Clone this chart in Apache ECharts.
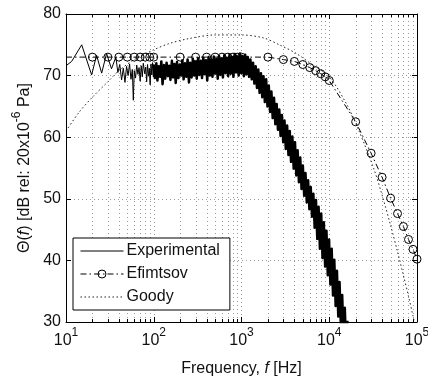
<!DOCTYPE html>
<html>
<head>
<meta charset="utf-8">
<script src="https://cdn.jsdelivr.net/npm/echarts@6/dist/echarts.min.js"></script>
<style>
html,body{margin:0;padding:0;background:#fff;}
#chart{width:428px;height:379px;}
</style>
</head>
<body>
<div id="chart"></div>
<script>
// ---- Data ----
const expFreq = [10, 11.6, 15.1, 19.6, 22.3, 25.5, 29, 33, 37, 39, 41, 43, 45, 47, 49, 51, 53, 55, 57, 58.5, 60, 62, 64, 66, 68, 70, 72, 74, 76, 79, 81, 83, 85, 87, 89, 91, 93, 95, 97, 99,
  100, 103, 107, 110, 114, 118, 122, 126, 131, 135, 140, 145, 150, 155, 161, 166, 172, 178, 184, 191, 198, 205, 212, 219, 227, 235, 243, 252, 260, 270, 279, 289, 299, 309, 320, 331, 343, 355, 367, 380, 393, 407, 421, 436, 451, 467, 483, 500, 518, 536, 554, 574, 594, 614, 636, 658, 681, 705, 730, 755, 782, 809, 837, 866, 897, 928, 960, 994, 1029, 1065, 1102, 1140, 1180, 1222, 1264, 1308, 1354, 1402, 1451, 1501, 1554, 1608, 1665, 1723, 1783, 1846, 1910, 1977, 2046, 2118, 2192, 2268, 2348, 2430, 2515, 2603, 2694, 2788, 2886, 2987, 3091, 3199, 3311, 3427, 3547, 3671, 3800, 3933, 4070, 4213, 4360, 4513, 4671, 4834, 5003, 5178, 5360, 5547, 5741, 5942, 6150, 6366, 6588, 6819, 7057, 7304, 7560, 7825, 8098, 8382, 8675, 8979, 9293, 9618, 9955, 10303, 10664, 11037, 11423, 11823, 12237, 12665, 13108, 13567, 14042, 14534, 15042, 15569, 16114];
const expLevel = [71.6, 72.3, 75.0, 70.1, 73.3, 70.4, 73.6, 71.1, 73.0, 70.5, 71.8, 69.3, 71.2, 68.9, 71.5, 70.0, 71.9, 69.4, 71.0, 66.0, 70.8, 69.6, 71.7, 70.2, 71.3, 69.1, 71.6, 69.8, 72.0, 70.3, 71.4, 69.0, 71.8, 69.9, 71.2, 68.5, 71.9, 70.1, 72.1, 69.8,
  71.8, 69.6, 72.0, 69.2, 71.5, 69.8, 72.3, 68.6, 71.7, 69.5, 72.1, 69.9, 71.6, 69.3, 72.4, 69.7, 71.9, 68.8, 72.2, 69.6, 71.8, 70.0, 72.5, 69.4, 72.0, 69.8, 72.6, 68.9, 72.1, 69.7, 72.7, 70.0, 72.3, 69.5, 72.8, 70.1, 72.4, 69.6, 72.9, 70.2, 72.5, 69.2, 73.0, 70.0, 72.6, 69.8, 73.1, 70.3, 72.7, 69.5, 73.2, 70.1, 72.8, 69.7, 73.3, 70.4, 72.9, 69.9, 73.4, 70.3, 73.0, 69.8, 73.5, 70.5, 73.1, 70.0, 73.6, 70.4, 73.2, 69.9, 73.4, 70.2, 73.0, 69.8, 72.6, 69.4, 72.1, 68.7, 71.5, 68.0, 71.0, 67.2, 70.4, 66.5, 69.9, 65.7, 69.4, 65.0, 68.4, 64.1, 67.4, 63.1, 66.4, 62.1, 65.4, 61.2, 64.5, 60.2, 63.6, 59.2, 62.7, 58.1, 61.9, 57.1, 61.0, 56.0, 60.1, 54.9, 59.2, 53.8, 57.9, 52.7, 56.7, 51.6, 55.4, 50.5, 54.2, 49.4, 53.0, 48.3, 51.9, 47.1, 50.8, 45.3, 49.8, 43.5, 48.7, 41.9, 47.6, 40.4, 46.2, 39.0, 44.8, 37.6, 43.4, 36.1, 41.9, 34.3, 40.1, 32.6, 38.3, 30.9, 36.5, 29.2, 34.4, 27.6, 32.3, 25.9, 30.2];

const efimFreq = [10, 20, 30, 40, 50, 60, 70, 80, 90, 100, 200, 300, 400, 500, 600, 700, 800, 900, 1000, 2000, 3000, 4000, 5000, 6000, 7000, 8000, 9000, 10000, 20000, 30000, 40000, 50000, 60000, 70000, 80000, 90000, 100000];
const efimLevel = [73.0, 73.0, 73.0, 73.0, 73.0, 73.0, 73.0, 73.0, 73.0, 73.0, 73.0, 73.0, 73.0, 73.0, 73.0, 73.0, 73.0, 73.0, 73.0, 73.0, 72.6, 72.3, 71.8, 71.3, 70.8, 70.3, 69.8, 69.2, 62.5, 57.4, 53.5, 50.1, 47.6, 45.5, 43.4, 41.8, 40.2];

const goodyFreq = [10, 14, 20, 30, 40, 60, 100, 150, 250, 500, 1000, 1800, 2700, 4200, 6500, 10000, 16000, 22000, 32000, 40000, 50000, 60000, 70000, 80000, 90000, 100000];
const goodyLevel = [61.0, 64.0, 66.5, 69.0, 70.8, 72.6, 74.2, 75.2, 76.0, 76.6, 76.6, 76.1, 75.0, 73.6, 71.7, 69.8, 65.2, 60.9, 55.0, 50.6, 45.7, 41.4, 37.6, 34.2, 31.0, 28.0];

const seriesNames = ['Experimental', 'Efimtsov', 'Goody'];
const xTickExponent = {10: '1', 100: '2', 1000: '3', 10000: '4', 100000: '5'};
const xMinorTicks = [20, 30, 40, 50, 60, 70, 80, 90, 200, 300, 400, 500, 600, 700, 800, 900, 2000, 3000, 4000, 5000, 6000, 7000, 8000, 9000, 20000, 30000, 40000, 50000, 60000, 70000, 80000, 90000];
const yRange = [30, 80];

// ---- Chart ----
const chart = echarts.init(document.getElementById('chart'), null, {renderer: 'canvas'});
const FONT = 'Liberation Sans, Arial, sans-serif';
const TXT = '#111';
const gridDot = {color: '#9a9a9a', width: 1, type: [1, 3]};

const zip = (a, b) => a.map((v, i) => [v, b[i]]);
const efimData = efimFreq.map((f, i) => i === 0 ? {value: [f, efimLevel[i]], symbol: 'none'} : [f, efimLevel[i]]);
const splitIdx = expFreq.indexOf(100);
const expAll = zip(expFreq, expLevel);

const option = {
  animation: false,
  backgroundColor: '#fff',
  textStyle: {fontFamily: FONT},
  grid: {left: 66, right: 11, top: 14, bottom: 57, containLabel: false, outerBoundsMode: 'none'},
  legend: {
    data: [
      {name: seriesNames[0], itemStyle: {opacity: 0}},
      {name: seriesNames[1], itemStyle: {color: 'rgba(255,255,255,0)', borderColor: '#000', borderWidth: 1}},
      {name: seriesNames[2], itemStyle: {opacity: 0}}
    ],
    orient: 'vertical',
    left: 73, top: 238,
    itemWidth: 43, itemHeight: 10, itemGap: 7,
    padding: [5, 10, 5, 7],
    backgroundColor: '#fff',
    borderColor: '#000', borderWidth: 1, borderRadius: 0,
    lineStyle: {width: 1},
    textStyle: {fontFamily: FONT, fontSize: 16, color: TXT, lineHeight: 16, padding: [0, 0, 0, -2]},
    selectedMode: false
  },
  xAxis: [{
    type: 'log', logBase: 10, min: 10, max: 100000, position: 'bottom',
    name: '{n|Frequency, }{i|f}{n| [Hz]}', nameLocation: 'middle', nameGap: 39,
    nameTextStyle: {rich: {n: {fontFamily: FONT, fontSize: 16, color: TXT}, i: {fontFamily: FONT, fontSize: 16, fontStyle: 'italic', color: TXT}}},
    axisLine: {show: true, lineStyle: {color: '#000', width: 1}},
    axisTick: {show: true, inside: true, length: 5, lineStyle: {color: '#000'}},
    minorTick: {show: false},
    splitLine: {show: true, lineStyle: gridDot},
    minorSplitLine: {show: false},
    axisLabel: {
      margin: 5,
      formatter: v => '{b|10}{s|' + (xTickExponent[Math.round(v)] || '') + '}',
      rich: {
        b: {fontFamily: FONT, fontSize: 16, color: TXT, lineHeight: 22, verticalAlign: 'bottom'},
        s: {fontFamily: FONT, fontSize: 12, color: TXT, lineHeight: 12, verticalAlign: 'top'}
      }
    }
  }, {
    type: 'log', logBase: 10, min: 10, max: 100000, position: 'top',
    axisLine: {show: true, lineStyle: {color: '#000', width: 1}},
    axisTick: {show: true, inside: true, length: 5, lineStyle: {color: '#000'}},
    splitLine: {show: false}, axisLabel: {show: false}
  }],
  yAxis: [{
    type: 'value', min: yRange[0], max: yRange[1], interval: 10, position: 'left',
    name: '{n|Θ(}{i|f}{n|) [dB rel: 20x10}{s|-6}{n| Pa]}', nameLocation: 'middle', nameGap: 26, nameRotate: 90,
    nameTextStyle: {rich: {
      n: {fontFamily: FONT, fontSize: 16, color: TXT, lineHeight: 22, verticalAlign: 'bottom'},
      i: {fontFamily: FONT, fontSize: 16, fontStyle: 'italic', color: TXT, lineHeight: 22, verticalAlign: 'bottom'},
      s: {fontFamily: FONT, fontSize: 12, color: TXT, lineHeight: 12, verticalAlign: 'top'}
    }},
    axisLine: {show: true, lineStyle: {color: '#000', width: 1}},
    axisTick: {show: true, inside: true, length: 5, lineStyle: {color: '#000'}},
    splitLine: {show: true, lineStyle: gridDot},
    axisLabel: {margin: 5, fontFamily: FONT, fontSize: 16, color: TXT}
  }, {
    type: 'value', min: yRange[0], max: yRange[1], interval: 10, position: 'right',
    axisLine: {show: true, lineStyle: {color: '#000', width: 1}},
    axisTick: {show: true, inside: true, length: 5, lineStyle: {color: '#000'}},
    splitLine: {show: false}, axisLabel: {show: false}
  }],
  series: [{
    // log-spaced minor grid lines and minor ticks (bottom and top)
    type: 'custom', xAxisIndex: 0, yAxisIndex: 0, silent: true, z: 1, clip: false,
    data: xMinorTicks.map(f => [f, yRange[0]]),
    renderItem: (params, api) => {
      const f = api.value(0);
      const p0 = api.coord([f, yRange[0]]);
      const p1 = api.coord([f, yRange[1]]);
      const x = Math.round(p0[0]) + 0.5;
      return {type: 'group', children: [
        {type: 'line', shape: {x1: x, y1: p0[1], x2: x, y2: p1[1]}, style: {stroke: '#9a9a9a', lineWidth: 1, lineDash: [1, 3]}},
        {type: 'line', shape: {x1: x, y1: p0[1], x2: x, y2: p0[1] - 3}, style: {stroke: '#000', lineWidth: 1}},
        {type: 'line', shape: {x1: x, y1: p1[1], x2: x, y2: p1[1] + 3}, style: {stroke: '#000', lineWidth: 1}}
      ]};
    }
  }, {
    name: seriesNames[0], type: 'line', xAxisIndex: 0, yAxisIndex: 0,
    data: expAll.slice(0, splitIdx + 1), symbol: 'none', sampling: null, clip: true,
    lineStyle: {color: '#000', width: 1}, itemStyle: {color: '#000'}
  }, {
    name: seriesNames[0], type: 'line', xAxisIndex: 0, yAxisIndex: 0,
    data: expAll.slice(splitIdx), symbol: 'none', sampling: null, clip: true,
    lineStyle: {color: '#000', width: 2.5, join: 'round'}, itemStyle: {color: '#000'}
  }, {
    name: seriesNames[1], type: 'line', xAxisIndex: 0, yAxisIndex: 0,
    data: efimData, symbol: 'circle', symbolSize: 8, showSymbol: true, showAllSymbol: true, clip: true,
    lineStyle: {color: '#000', width: 1, type: [6, 3, 1.5, 3]},
    itemStyle: {color: 'rgba(255,255,255,0)', borderColor: '#000', borderWidth: 1}
  }, {
    name: seriesNames[2], type: 'line', xAxisIndex: 0, yAxisIndex: 0,
    data: zip(goodyFreq, goodyLevel), symbol: 'none', smooth: 0.3, clip: true,
    lineStyle: {color: '#222', width: 1, type: [1.5, 2.5]}, itemStyle: {color: '#222'}
  }]
};
chart.setOption(option);
</script>
</body>
</html>
